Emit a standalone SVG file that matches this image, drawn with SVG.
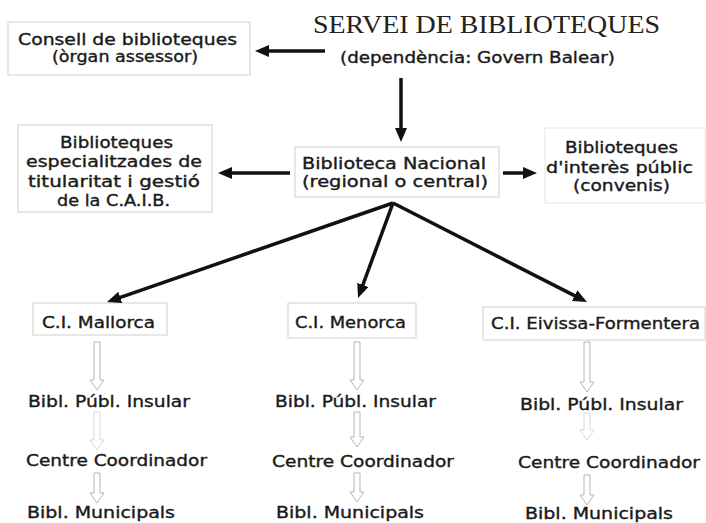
<svg xmlns="http://www.w3.org/2000/svg" width="706" height="523" viewBox="0 0 706 523">
<defs>
<style>
.bg{fill:#fff}
.box{fill:#fff;stroke:#cfcfcf;stroke-width:1}
.t{font-family:"DejaVu Sans","Liberation Sans",sans-serif;font-weight:normal;font-size:15px;fill:#1a1a1a;stroke:#1a1a1a;stroke-width:0.35}
.title{font-family:"Liberation Serif","Times New Roman",serif;font-size:26px;fill:#222}
.arr{stroke:#111;stroke-width:3.5;fill:none;marker-end:url(#head)}
.hol{fill:#fff;stroke:#b5b5b5;stroke-width:1}
</style>
<marker id="head" markerUnits="userSpaceOnUse" markerWidth="14" markerHeight="12" refX="6" refY="6" orient="auto">
<path d="M0,0 L14,6 L0,12 z" fill="#111"/>
</marker>
</defs>
<rect class="bg" x="0" y="0" width="706" height="523"/>

<g id="servei">
<text class="title" x="313" y="33" textLength="347" lengthAdjust="spacingAndGlyphs">SERVEI DE BIBLIOTEQUES</text>
<text class="t" x="340" y="63" textLength="275" lengthAdjust="spacingAndGlyphs">(dependència: Govern Balear)</text>
</g>

<g id="consell">
<rect class="box" x="8" y="22" width="242" height="53"/>
<text class="t" x="18" y="45" textLength="219" lengthAdjust="spacingAndGlyphs">Consell de biblioteques</text>
<text class="t" x="52" y="62" textLength="146" lengthAdjust="spacingAndGlyphs">(òrgan assessor)</text>
</g>

<g id="especialitzades">
<rect class="box" x="18" y="125" width="194" height="87"/>
<text class="t" x="60" y="148" textLength="113" lengthAdjust="spacingAndGlyphs">Biblioteques</text>
<text class="t" x="26" y="167" textLength="176" lengthAdjust="spacingAndGlyphs">especialitzades de</text>
<text class="t" x="28" y="187" textLength="172" lengthAdjust="spacingAndGlyphs">titularitat i gestió</text>
<text class="t" x="57" y="206" textLength="113" lengthAdjust="spacingAndGlyphs">de la C.A.I.B.</text>
</g>

<g id="nacional">
<rect class="box" x="295" y="147" width="204" height="50"/>
<text class="t" x="302" y="169" textLength="184" lengthAdjust="spacingAndGlyphs">Biblioteca Nacional</text>
<text class="t" x="302" y="187" textLength="186" lengthAdjust="spacingAndGlyphs">(regional o central)</text>
</g>

<g id="interes">
<rect class="box" x="545" y="128" width="160" height="75" style="stroke:#e6e6e6"/>
<text class="t" x="565" y="153" textLength="113" lengthAdjust="spacingAndGlyphs">Biblioteques</text>
<text class="t" x="546" y="173" textLength="147" lengthAdjust="spacingAndGlyphs">d'interès públic</text>
<text class="t" x="573" y="191" textLength="97" lengthAdjust="spacingAndGlyphs">(convenis)</text>
</g>

<g id="mallorca">
<rect class="box" x="33" y="303" width="134" height="32"/>
<text class="t" x="42" y="328" textLength="113" lengthAdjust="spacingAndGlyphs">C.I. Mallorca</text>
<text class="t" x="28" y="407" textLength="162" lengthAdjust="spacingAndGlyphs">Bibl. Públ. Insular</text>
<text class="t" x="26" y="466" textLength="181" lengthAdjust="spacingAndGlyphs">Centre Coordinador</text>
<text class="t" x="27" y="518" textLength="148" lengthAdjust="spacingAndGlyphs">Bibl. Municipals</text>
</g>

<g id="menorca">
<rect class="box" x="288" y="303" width="128" height="35"/>
<text class="t" x="295" y="328" textLength="111" lengthAdjust="spacingAndGlyphs">C.I. Menorca</text>
<text class="t" x="275" y="407" textLength="161" lengthAdjust="spacingAndGlyphs">Bibl. Públ. Insular</text>
<text class="t" x="272" y="467" textLength="182" lengthAdjust="spacingAndGlyphs">Centre Coordinador</text>
<text class="t" x="276" y="518" textLength="148" lengthAdjust="spacingAndGlyphs">Bibl. Municipals</text>
</g>

<g id="eivissa">
<rect class="box" x="483" y="307" width="222" height="33"/>
<text class="t" x="491" y="329" textLength="209" lengthAdjust="spacingAndGlyphs">C.I. Eivissa-Formentera</text>
<text class="t" x="520" y="410" textLength="163" lengthAdjust="spacingAndGlyphs">Bibl. Públ. Insular</text>
<text class="t" x="518" y="468" textLength="182" lengthAdjust="spacingAndGlyphs">Centre Coordinador</text>
<text class="t" x="525" y="519" textLength="148" lengthAdjust="spacingAndGlyphs">Bibl. Municipals</text>
</g>

<g id="connectors">
<line class="arr" x1="325" y1="51" x2="263" y2="51"/>
<line class="arr" x1="401" y1="78" x2="401" y2="134"/>
<line class="arr" x1="290" y1="173" x2="226" y2="173"/>
<line class="arr" x1="503" y1="173" x2="529" y2="173"/>
<line class="arr" x1="393" y1="203" x2="114.6" y2="299.4"/>
<line class="arr" x1="393" y1="203" x2="360.8" y2="290.5"/>
<line class="arr" x1="393" y1="203" x2="579.9" y2="298.4"/>
<polygon class="hol" points="94,342 100,342 100,380 104,380 97,390 90,380 94,380"/>
<polygon class="hol" points="94,412 100,412 100,440 104,440 97,450 90,440 94,440" style="stroke:#d8d8d8"/>
<polygon class="hol" points="94,473 100,473 100,493 104,493 97,503 90,493 94,493"/>
<polygon class="hol" points="354,342 360,342 360,380 364,380 357,390 350,380 354,380"/>
<polygon class="hol" points="354,412 360,412 360,437 364,437 357,447 350,437 354,437"/>
<polygon class="hol" points="354,473 360,473 360,492 364,492 357,502 350,492 354,492"/>
<polygon class="hol" points="584,342 590,342 590,382 594,382 587,392 580,382 584,382"/>
<polygon class="hol" points="584,413 590,413 590,430 594,430 587,440 580,430 584,430" style="stroke:#d8d8d8"/>
<polygon class="hol" points="584,475 590,475 590,495 594,495 587,505 580,495 584,495"/>
</g>
</svg>
